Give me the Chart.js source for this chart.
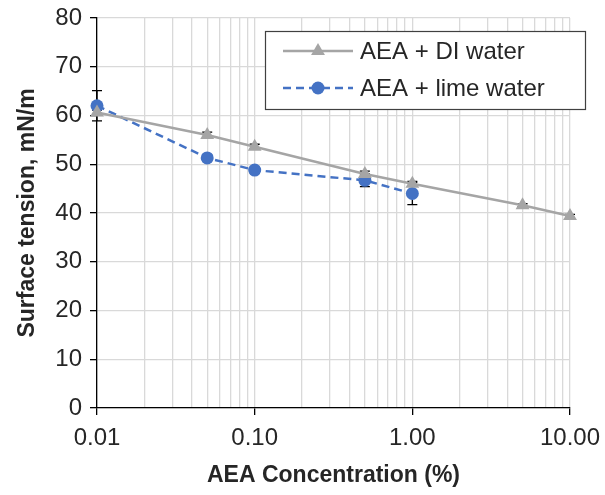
<!DOCTYPE html>
<html>
<head>
<meta charset="utf-8">
<script src="https://cdn.jsdelivr.net/npm/chart.js@4.4.1/dist/chart.umd.min.js"></script>
<style>
  html, body { margin: 0; padding: 0; background: #fff; }
  #wrap { width: 605px; height: 495px; position: relative; }
</style>
</head>
<body>
<div id="wrap"><canvas id="chart"></canvas></div>
<script>
// surface tension of AEA solutions, DI water vs lime water
const diConc = [0.01, 0.05, 0.1, 0.5, 1, 5, 10];
const diTension = [60.6, 56.0, 53.6, 48.0, 46.0, 41.6, 39.4];
const diError = [0.5, 0.6, 0.5, 0.6, 0.5, 0.3, 0.3];

const limeConc = [0.01, 0.05, 0.1, 0.5, 1];
const limeTension = [62.0, 51.3, 48.8, 46.7, 44.0];
const limeError = [3.1, 0.6, 0.6, 1.3, 2.3];

const seriesLabels = ['AEA + DI water', 'AEA + lime water'];
const xMajorTicks = [0.01, 0.1, 1, 10];
const yRange = [0, 80];
const yStep = 10;

const FONT = "'Liberation Sans', Arial, sans-serif";
const TEXT = '#262626';
const GRID = '#d9d9d9';

const toPoints = (xs, ys) => xs.map((x, i) => ({ x, y: ys[i] }));

// decade lines plus 2..9 minor lines for the log axis
function logGridValues(majors) {
  const vals = [];
  for (let i = 0; i < majors.length - 1; i++) {
    for (let k = 1; k < 10; k++) vals.push(Number((majors[i] * k).toPrecision(3)));
  }
  vals.push(majors[majors.length - 1]);
  return vals;
}

const errorBars = {
  id: 'errorBars',
  beforeDatasetsDraw(chart) {
    const { ctx, scales: { x, y } } = chart;
    ctx.save();
    ctx.strokeStyle = '#000';
    ctx.lineWidth = 1.3;
    chart.data.datasets.forEach(ds => {
      ds.data.forEach((p, i) => {
        const e = ds.errors[i];
        const px = x.getPixelForValue(p.x);
        const top = y.getPixelForValue(p.y + e);
        const bot = y.getPixelForValue(p.y - e);
        ctx.beginPath();
        ctx.moveTo(px, top); ctx.lineTo(px, bot);
        ctx.moveTo(px - 5, top); ctx.lineTo(px + 5, top);
        ctx.moveTo(px - 5, bot); ctx.lineTo(px + 5, bot);
        ctx.stroke();
      });
    });
    ctx.restore();
  }
};

function drawMarker(ctx, style, r, cx, cy, color) {
  ctx.fillStyle = color;
  ctx.beginPath();
  if (style === 'triangle') {
    let rad = 0;
    ctx.moveTo(cx + Math.sin(rad) * r, cy - Math.cos(rad) * r);
    rad += 2 * Math.PI / 3;
    ctx.lineTo(cx + Math.sin(rad) * r, cy - Math.cos(rad) * r);
    rad += 2 * Math.PI / 3;
    ctx.lineTo(cx + Math.sin(rad) * r, cy - Math.cos(rad) * r);
    ctx.closePath();
  } else {
    ctx.arc(cx, cy, r, 0, Math.PI * 2);
  }
  ctx.fill();
}

// boxed legend inside the plot, line + marker samples
const boxLegend = {
  id: 'boxLegend',
  afterDraw(chart) {
    const { ctx } = chart;
    const box = { x: 265, y: 31, w: 320, h: 78 };
    ctx.save();
    ctx.fillStyle = '#fff';
    ctx.fillRect(box.x, box.y, box.w, box.h);
    ctx.strokeStyle = '#404040';
    ctx.lineWidth = 1.2;
    ctx.strokeRect(box.x + 0.5, box.y + 0.5, box.w, box.h);
    ctx.font = '24px ' + FONT;
    ctx.textBaseline = 'middle';
    chart.data.datasets.forEach((ds, i) => {
      const cy = box.y + 20 + i * 37;
      ctx.strokeStyle = ds.borderColor;
      ctx.lineWidth = ds.borderWidth;
      ctx.setLineDash(ds.borderDash || []);
      ctx.beginPath();
      ctx.moveTo(box.x + 18, cy);
      ctx.lineTo(box.x + 88, cy);
      ctx.stroke();
      ctx.setLineDash([]);
      drawMarker(ctx, ds.pointStyle, ds.pointRadius, box.x + 53, cy, ds.pointBackgroundColor);
      ctx.fillStyle = TEXT;
      ctx.fillText(ds.label, box.x + 95, cy + 1);
    });
    ctx.restore();
  }
};

// keep tick-label overhang from shrinking the plot area
const noOverhang = scale => {
  scale.paddingLeft = 0;
  scale.paddingRight = 0;
  scale.paddingTop = 0;
  scale.paddingBottom = 0;
};

new Chart(document.getElementById('chart'), {
  type: 'line',
  data: {
    datasets: [
      {
        label: seriesLabels[0],
        data: toPoints(diConc, diTension),
        errors: diError,
        borderColor: '#a5a5a5',
        borderWidth: 2.5,
        pointStyle: 'triangle',
        pointRadius: 8,
        pointBackgroundColor: '#a5a5a5',
        pointBorderColor: '#a5a5a5',
        pointBorderWidth: 0,
        tension: 0,
        clip: false,
      },
      {
        label: seriesLabels[1],
        data: toPoints(limeConc, limeTension),
        errors: limeError,
        borderColor: '#4472c4',
        borderWidth: 2.5,
        borderDash: [8, 5],
        pointStyle: 'circle',
        pointRadius: 6.5,
        pointBackgroundColor: '#4472c4',
        pointBorderColor: '#4472c4',
        pointBorderWidth: 0,
        tension: 0,
        clip: false,
      },
    ],
  },
  options: {
    responsive: true,
    maintainAspectRatio: false,
    animation: false,
    layout: { padding: { top: 18, right: 35, left: 0, bottom: 0 } },
    plugins: { legend: { display: false }, tooltip: { enabled: false } },
    scales: {
      x: {
        type: 'logarithmic',
        min: xMajorTicks[0],
        max: xMajorTicks[xMajorTicks.length - 1],
        afterBuildTicks: scale => {
          scale.ticks = logGridValues(xMajorTicks).map(v => ({ value: v, major: xMajorTicks.includes(v) }));
        },
        afterFit: scale => { scale.height = 87; noOverhang(scale); },
        ticks: {
          autoSkip: false,
          maxRotation: 0,
          padding: 9,
          color: TEXT,
          font: { family: FONT, size: 24 },
          callback: v => (xMajorTicks.includes(v) ? v.toFixed(2) : ''),
        },
        grid: {
          color: GRID,
          lineWidth: 1.3,
          tickLength: 7,
          tickColor: ctx => (ctx.tick && ctx.tick.major ? '#000' : 'rgba(0,0,0,0)'),
        },
        border: { color: '#000', width: 1.3 },
        title: {
          display: true,
          text: 'AEA Concentration (%)',
          color: TEXT,
          font: { family: FONT, size: 23, weight: 'bold' },
          padding: { top: 0, bottom: 6 },
        },
      },
      y: {
        min: yRange[0],
        max: yRange[1],
        afterFit: scale => { scale.width = 97; noOverhang(scale); },
        ticks: {
          stepSize: yStep,
          padding: 8,
          color: TEXT,
          font: { family: FONT, size: 24 },
        },
        grid: { color: GRID, lineWidth: 1.3, tickLength: 7, tickColor: '#000' },
        border: { color: '#000', width: 1.3 },
        title: {
          display: true,
          text: 'Surface tension, mN/m',
          color: TEXT,
          font: { family: FONT, size: 23, weight: 'bold' },
          padding: { top: 14, bottom: 0 },
        },
      },
    },
  },
  plugins: [errorBars, boxLegend],
});
</script>
</body>
</html>
